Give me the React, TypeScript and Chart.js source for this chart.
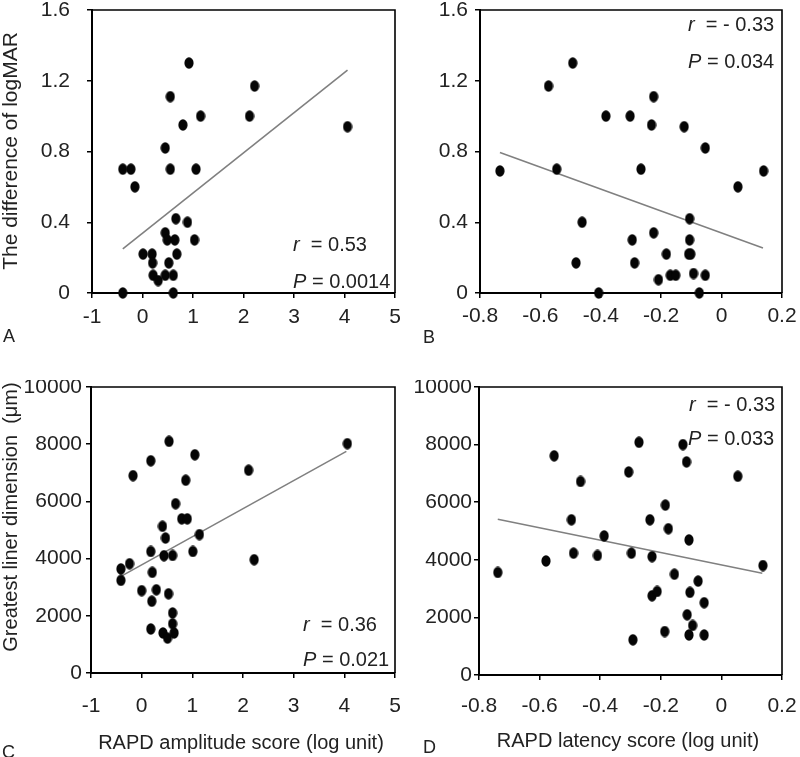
import React, { useEffect, useRef } from "react";
import { Chart, registerables } from "chart.js";
Chart.register(...registerables);

// ---- Panel A: RAPD amplitude vs difference of logMAR
const aX = [-0.39, -0.23, -0.15, -0.39, 0.01, 0.19, 0.2, 0.21, 0.31, 0.45, 0.45, 0.49, 0.52, 0.45, 0.55, 0.55, 0.61, 0.61, 0.64, 0.66, 0.68, 0.8, 0.89, 0.92, 1.03, 1.06, 1.15, 2.12, 2.22, 4.06];
const aY = [0.7, 0.7, 0.6, 0, 0.22, 0.22, 0.17, 0.1, 0.07, 0.1, 0.34, 0.3, 0.17, 0.82, 0.7, 1.11, 0.1, 0, 0.3, 0.42, 0.22, 0.95, 0.4, 1.3, 0.3, 0.7, 1.0, 1.0, 1.17, 0.94];
const aFitX = [-0.39, 4.06];
const aFitY = [0.25, 1.26];

// ---- Panel B: RAPD latency vs difference of logMAR
const bX = [-0.734, -0.573, -0.546, -0.493, -0.462, -0.482, -0.407, -0.383, -0.303, -0.296, -0.288, -0.267, -0.232, -0.225, -0.225, -0.209, -0.183, -0.17, -0.152, -0.124, -0.106, -0.106, -0.109, -0.102, -0.093, -0.074, -0.054, -0.054, 0.054, 0.139];
const bY = [0.69, 1.17, 0.7, 1.3, 0.4, 0.17, 0, 1.0, 1.0, 0.3, 0.17, 0.7, 0.95, 1.11, 0.34, 0.075, 0.22, 0.1, 0.1, 0.94, 0.42, 0.3, 0.22, 0.22, 0.11, 0, 0.1, 0.82, 0.6, 0.69];
const bFitX = [-0.734, 0.137];
const bFitY = [0.794, 0.254];

// ---- Panel C: RAPD amplitude vs greatest liner dimension
const cX = [-0.41, -0.41, -0.24, -0.17, 0, 0.18, 0.18, 0.21, 0.2, 0.18, 0.29, 0.41, 0.44, 0.47, 0.42, 0.51, 0.53, 0.54, 0.61, 0.61, 0.61, 0.64, 0.67, 0.79, 0.9, 0.87, 1.01, 1.05, 1.14, 2.11, 2.22, 4.06];
const cY = [3640, 3240, 3820, 6900, 2880, 7420, 4250, 3520, 2510, 1540, 2910, 5130, 4100, 4720, 1400, 1220, 2770, 8100, 4110, 2100, 1720, 1400, 5920, 5390, 5390, 6740, 4250, 7630, 4840, 7090, 3960, 8020];
const cFitX = [-0.41, 4.04];
const cFitY = [3380, 7750];

// ---- Panel D: RAPD latency vs greatest liner dimension
const dX = [-0.738, -0.579, -0.552, -0.495, -0.488, -0.465, -0.409, -0.387, -0.306, -0.297, -0.292, -0.272, -0.236, -0.229, -0.229, -0.212, -0.187, -0.185, -0.175, -0.155, -0.127, -0.115, -0.113, -0.107, -0.107, -0.104, -0.095, -0.077, -0.057, -0.057, 0.054, 0.137];
const dY = [3560, 3960, 7610, 5390, 4230, 6720, 4150, 4830, 7050, 4230, 1220, 8080, 5390, 4110, 2750, 2900, 1510, 5900, 5080, 3500, 8000, 7400, 2090, 4690, 1390, 2870, 1720, 3260, 2510, 1390, 6900, 3800];
const dFitX = [-0.738, 0.135];
const dFitY = [5410, 3530];

// axis ranges / ticks
const amplitudeRange = [-1, 5, 1];
const latencyRange = [-0.8, 0.2, 0.2];
const logmarRange = [0, 1.6, 0.4];
const dimensionRange = [0, 10000, 2000];

const FONT = "'Liberation Sans', Arial, Helvetica, sans-serif";
const TEXT = "#222";

function makeDot() {
  const c = document.createElement("canvas");
  c.width = 10;
  c.height = 12;
  const g = c.getContext("2d")!;
  g.fillStyle = "#050505";
  g.beginPath();
  g.ellipse(5, 6, 4.6, 5.7, 0, 0, Math.PI * 2);
  g.fill();
  return c;
}

type Part = { t: string; italic?: boolean };
type TextItem = { parts: Part[]; x: number; y: number; size: number; align?: "left" | "center"; rot?: boolean };

type PanelDef = {
  left: number; top: number; w: number; h: number;
  area: { left: number; top: number; right: number; bottom: number };
  xs: number[]; ys: number[]; fitX: number[]; fitY: number[];
  xr: number[]; yr: number[];
  yPad: number; xPad: number;
  texts: TextItem[];
};

const fmt = (v: number) => String(Number(Number(v).toFixed(4)));

function drawTexts(ctx: CanvasRenderingContext2D, items: TextItem[]) {
  for (const it of items) {
    ctx.save();
    ctx.fillStyle = TEXT;
    ctx.textBaseline = "middle";
    ctx.textAlign = "left";
    ctx.translate(it.x, it.y);
    if (it.rot) ctx.rotate(-Math.PI / 2);
    let total = 0;
    const widths: number[] = [];
    for (const p of it.parts) {
      ctx.font = `${p.italic ? "italic " : ""}${it.size}px ${FONT}`;
      const w = ctx.measureText(p.t).width;
      widths.push(w);
      total += w;
    }
    let x = it.align === "center" ? -total / 2 : 0;
    it.parts.forEach((p, i) => {
      ctx.font = `${p.italic ? "italic " : ""}${it.size}px ${FONT}`;
      ctx.fillText(p.t, x, 0);
      x += widths[i];
    });
    ctx.restore();
  }
}

function buildConfig(p: PanelDef, dot: HTMLCanvasElement): any {
  const frame = {
    id: "frame",
    afterDraw(chart: any) {
      const { ctx, chartArea: a } = chart;
      ctx.save();
      ctx.strokeStyle = "#000";
      ctx.lineWidth = 1.6;
      ctx.beginPath();
      ctx.moveTo(a.left, a.top);
      ctx.lineTo(a.right, a.top);
      ctx.lineTo(a.right, a.bottom);
      ctx.stroke();
      ctx.restore();
      drawTexts(ctx, p.texts);
    },
  };
  const zeroPad = (s: any) => {
    s.paddingLeft = 0; s.paddingRight = 0; s.paddingTop = 0; s.paddingBottom = 0;
  };
  return {
    type: "scatter",
    data: {
      datasets: [
        {
          type: "line",
          data: p.fitX.map((x, i) => ({ x, y: p.fitY[i] })),
          borderColor: "#808080",
          borderWidth: 1.6,
          pointRadius: 0,
          fill: false,
          order: 2,
        },
        {
          data: p.xs.map((x, i) => ({ x, y: p.ys[i] })),
          pointStyle: dot,
          pointRadius: 5,
          backgroundColor: "#000",
          borderWidth: 0,
          clip: false,
          order: 1,
        },
      ],
    },
    options: {
      animation: false,
      responsive: false,
      devicePixelRatio: 1,
      layout: { padding: { left: 0, top: p.area.top, right: p.w - p.area.right, bottom: 0 } },
      plugins: { legend: { display: false }, tooltip: { enabled: false } },
      scales: {
        x: {
          type: "linear",
          position: "bottom",
          min: p.xr[0], max: p.xr[1],
          ticks: { stepSize: p.xr[2], padding: p.xPad, color: TEXT, font: { family: FONT, size: 21 }, callback: (v: number) => fmt(v), maxRotation: 0, autoSkip: false },
          grid: { display: true, drawOnChartArea: false, drawTicks: true, tickLength: 5, color: "#000", lineWidth: 1.5 },
          border: { display: true, color: "#000", width: 2 },
          afterFit: (s: any) => { s.height = p.h - p.area.bottom; zeroPad(s); },
        },
        y: {
          type: "linear",
          position: "left",
          min: p.yr[0], max: p.yr[1],
          ticks: { stepSize: p.yr[2], padding: p.yPad, color: TEXT, font: { family: FONT, size: 21 }, callback: (v: number) => fmt(v), autoSkip: false },
          grid: { display: true, drawOnChartArea: false, drawTicks: true, tickLength: 5, color: "#000", lineWidth: 1.5 },
          border: { display: true, color: "#000", width: 2 },
          afterFit: (s: any) => { s.width = p.area.left; zeroPad(s); },
        },
      },
    },
    plugins: [frame],
  };
}

const panels: PanelDef[] = [
  {
    left: 0, top: 0, w: 400, h: 380,
    area: { left: 92, top: 10, right: 395, bottom: 293 },
    xs: aX, ys: aY, fitX: aFitX, fitY: aFitY, xr: amplitudeRange, yr: logmarRange,
    yPad: 17, xPad: 7,
    texts: [
      { parts: [{ t: "The difference of logMAR" }], x: 11, y: 151, size: 21, align: "center", rot: true },
      { parts: [{ t: "r", italic: true }, { t: "  = 0.53" }], x: 293, y: 245, size: 20 },
      { parts: [{ t: "P", italic: true }, { t: " = 0.0014" }], x: 293, y: 282, size: 20 },
      { parts: [{ t: "A" }], x: 3, y: 337, size: 18 },
    ],
  },
  {
    left: 400, top: 0, w: 400, h: 380,
    area: { left: 80, top: 10, right: 382, bottom: 293 },
    xs: bX, ys: bY, fitX: bFitX, fitY: bFitY, xr: latencyRange, yr: logmarRange,
    yPad: 7, xPad: 6,
    texts: [
      { parts: [{ t: "r", italic: true }, { t: "  = - 0.33" }], x: 288, y: 25, size: 20 },
      { parts: [{ t: "P", italic: true }, { t: " = 0.034" }], x: 288, y: 62, size: 20 },
      { parts: [{ t: "B" }], x: 23, y: 338, size: 18 },
    ],
  },
  {
    left: 0, top: 380, w: 400, h: 377,
    area: { left: 91, top: 7, right: 395, bottom: 293 },
    xs: cX, ys: cY, fitX: cFitX, fitY: cFitY, xr: amplitudeRange, yr: dimensionRange,
    yPad: 4, xPad: 16,
    texts: [
      { parts: [{ t: "Greatest liner dimension  (μm)" }], x: 11, y: 137, size: 20, align: "center", rot: true },
      { parts: [{ t: "RAPD amplitude score (log unit)" }], x: 241, y: 363, size: 20, align: "center" },
      { parts: [{ t: "r", italic: true }, { t: "  = 0.36" }], x: 303, y: 245, size: 20 },
      { parts: [{ t: "P", italic: true }, { t: " = 0.021" }], x: 303, y: 280, size: 20 },
      { parts: [{ t: "C" }], x: 2, y: 373, size: 18 },
    ],
  },
  {
    left: 400, top: 380, w: 400, h: 377,
    area: { left: 79, top: 7, right: 382, bottom: 295 },
    xs: dX, ys: dY, fitX: dFitX, fitY: dFitY, xr: latencyRange, yr: dimensionRange,
    yPad: 2, xPad: 14,
    texts: [
      { parts: [{ t: "RAPD latency score (log unit)" }], x: 228, y: 361, size: 20, align: "center" },
      { parts: [{ t: "r", italic: true }, { t: "  = - 0.33" }], x: 289, y: 25, size: 20 },
      { parts: [{ t: "P", italic: true }, { t: " = 0.033" }], x: 288, y: 59, size: 20 },
      { parts: [{ t: "D" }], x: 23, y: 368, size: 18 },
    ],
  },
];

function Panel({ def }: { def: PanelDef }) {
  const ref = useRef<HTMLCanvasElement>(null);
  useEffect(() => {
    const chart = new Chart(ref.current as HTMLCanvasElement, buildConfig(def, makeDot()));
    return () => chart.destroy();
  }, [def]);
  return (
    <div style={{ position: "absolute", left: def.left, top: def.top, width: def.w, height: def.h }}>
      <canvas ref={ref} width={def.w} height={def.h} style={{ width: def.w, height: def.h, display: "block" }} />
    </div>
  );
}

export default function App() {
  return (
    <div style={{ position: "fixed", left: 0, top: 0, width: 800, height: 757, background: "#fff", overflow: "hidden" }}>
      {panels.map((p, i) => (
        <Panel key={i} def={p} />
      ))}
    </div>
  );
}
